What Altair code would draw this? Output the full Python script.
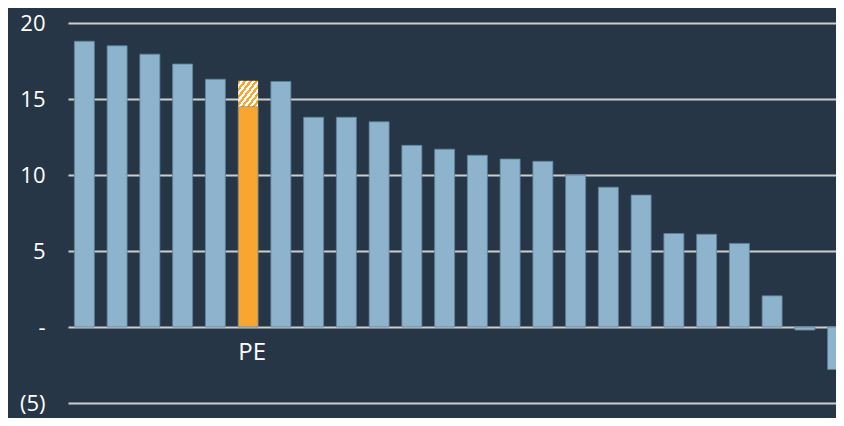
import altair as alt
import pandas as pd

# ---- data ----
categories = [f"c{i:02d}" for i in range(1, 25)]
labels = [""] * 24
labels[5] = "PE"
values = [18.8, 18.5, 17.95, 17.3, 16.3, 16.2, 16.15, 13.8, 13.8, 13.5,
          11.95, 11.7, 11.3, 11.05, 10.9, 10.0, 9.2, 8.68, 6.15, 6.1,
          5.5, 2.05, -0.2, -2.8]
hatch_from = [None] * 24
hatch_from[5] = 14.5
y_ticks = [-5, 0, 5, 10, 15, 20]

BG = "#273646"
BLUE = "#8db4cc"
ORANGE = "#f9a630"
GRID = "#cdcdcd"
FONT = "Open Sans, Noto Sans, DejaVu Sans"

rows = []
for c, lab, v, h in zip(categories, labels, values, hatch_from):
    rows.append({
        "cat": c,
        "label": lab,
        "solid": h if h is not None else v,
        "top": v,
        "hatch": h is not None,
        "hl": lab == "PE",
        "zero": 0,
    })
df = pd.DataFrame(rows)

# striped (hatched) fill built as a hard-edged linear gradient
n_stripes = 7
stops = []
for k in range(n_stripes):
    a = k / n_stripes
    b = (k + 0.5) / n_stripes
    e = (k + 1) / n_stripes
    stops += [
        {"offset": a, "color": ORANGE},
        {"offset": b, "color": ORANGE},
        {"offset": b, "color": "#ffffff"},
        {"offset": e, "color": "#ffffff"},
    ]
hatch_fill = {"gradient": "linear", "x1": 0, "y1": 0, "x2": 1, "y2": 1, "stops": stops}

x_enc = alt.X("cat:N", sort=categories,
              scale=alt.Scale(range=[0, 786], paddingInner=0.39, paddingOuter=0.195),
              axis=None)
y_scale = alt.Scale(domain=[-5, 20], nice=False)

label_expr = ("datum.value == 0 ? '-\u00a0' : "
              "(datum.value < 0 ? '(' + format(-datum.value, 'd') + ')' : "
              "format(datum.value, 'd') + '\u00a0')")

base = alt.Chart(df)

bars = base.mark_bar(clip=True, stroke="#5f8198", strokeWidth=0.8).encode(
    x=x_enc,
    y=alt.Y("solid:Q", scale=y_scale,
            axis=alt.Axis(values=y_ticks, title=None,
                          labelExpr=label_expr, domain=False, ticks=False,
                          tickSize=0, labelPadding=23, labelAlign="right",
                          labelFontSize=22, labelFont=FONT, labelColor="#ffffff",
                          grid=True, gridColor=GRID, gridWidth=2, gridOpacity=1)),
    y2=alt.datum(0),
    color=alt.condition(alt.datum.hl, alt.value(ORANGE), alt.value(BLUE)),
)

hatch = base.transform_filter(alt.datum.hatch).mark_bar(
    fill=hatch_fill, clip=True
).encode(
    x=x_enc,
    y=alt.Y("solid:Q", scale=y_scale),
    y2="top:Q",
)

text = base.transform_filter("datum.label != ''").mark_text(
    baseline="top", dy=14, dx=4, fontSize=24, font=FONT, color="#ffffff"
).encode(
    x=x_enc,
    y=alt.Y("zero:Q", scale=y_scale),
    text="label:N",
)

chart = alt.layer(bars, hatch, text).properties(
    width=768,
    height=380,
    background=BG,
    padding={"left": 60, "top": 15, "right": 0, "bottom": 15},
    autosize=alt.AutoSizeParams(type="none"),
).configure_view(stroke=None, fill=BG)

chart.save("out.html", embed_options={"renderer": "svg", "actions": False})
